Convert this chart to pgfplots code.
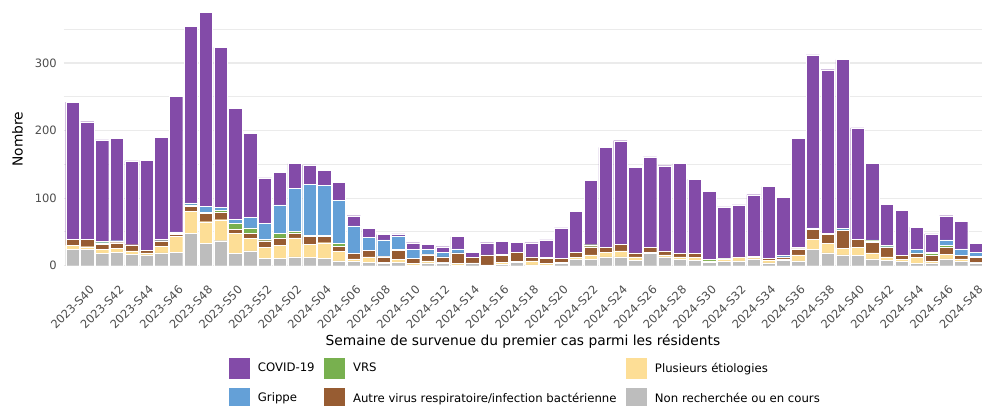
\documentclass[border=0pt]{standalone}
\usepackage{fontspec}
\setmainfont{DejaVu Sans}
\usepackage{pgfplots}
\usepackage{pgfplotstable}
\pgfplotsset{compat=1.18}
\definecolor{cCovid}{HTML}{834BA8}
\definecolor{cGrippe}{HTML}{64A0D7}
\definecolor{cVRS}{HTML}{78B04F}
\definecolor{cAutre}{HTML}{975C32}
\definecolor{cPlus}{HTML}{FDDE96}
\definecolor{cNon}{HTML}{BDBDBD}
\definecolor{gridc}{HTML}{EBEBEB}
\definecolor{tickc}{HTML}{4D4D4D}
\pgfplotstableread{
k gray yellow brown green blue purple
0 24 6 9 0 0 203
1 24 4 11 0 0 174
2 18 6 8 2 2 150
3 20 6 8 1 2 151
4 17 5 9 0 0 124
5 16 3 4 0 0 133
6 19 10 8 0 2 151
7 20 23 3 2 2 201
8 48 32 8 2 3 261
9 33 32 12 2 9 287
10 37 31 11 3 4 237
11 18 30 6 9 6 164
12 22 18 8 8 16 124
13 11 16 10 2 24 67
14 11 19 11 7 42 48
15 13 28 7 3 63 37
16 12 20 11 2 75 29
17 11 23 9 2 74 22
18 7 14 8 4 64 26
19 6 4 8 0 41 15
20 5 8 10 0 19 13
21 3 2 8 1 24 8
22 5 4 14 1 20 3
23 1 2 8 0 13 10
24 4 3 9 1 7 8
25 4 1 8 0 7 8
26 1 2 16 0 6 18
27 4 0 8 0 0 8
28 1 0 14 1 0 18
29 2 3 10 2 0 19
30 5 1 14 0 0 15
31 1 6 6 0 0 21
32 1 2 8 1 0 26
33 3 2 6 0 0 45
34 9 3 8 0 0 60
35 9 7 12 3 0 95
36 13 7 7 0 0 148
37 13 9 10 0 0 153
38 8 5 6 0 0 127
39 18 2 7 0 0 134
40 13 3 6 0 0 126
41 9 4 5 0 0 133
42 8 4 6 0 0 110
43 5 2 0 2 0 101
44 6 3 0 1 1 76
45 7 5 1 0 0 77
46 10 2 2 0 0 91
47 4 4 3 0 0 106
48 8 2 3 0 2 86
49 7 9 9 1 1 161
50 24 15 15 1 1 256
51 19 14 13 2 0 242
52 16 10 26 1 2 250
53 15 12 12 0 0 165
54 10 9 16 2 1 113
55 8 5 14 1 2 61
56 6 3 6 0 0 67
57 3 9 6 1 5 33
58 4 2 9 3 2 27
59 10 7 10 3 8 36
60 6 4 5 0 10 41
61 4 1 7 2 6 13
}\datatable
\pgfplotsset{
  sqlegend/.style={legend image code/.code={\fill[##1, draw=none] (0pt,-10.5pt) rectangle (21pt,10.5pt);}},
  segm/.style={fill=#1, draw=white, line width=0.3pt, forget plot},
}
\begin{document}
\begin{tikzpicture}
\begin{axis}[
  at={(63.5pt,126.7pt)}, anchor=south west,
  x=14.81pt, y=0.6757pt,
  xmin=-0.6, xmax=61.45, ymin=-18.7, ymax=393,
  ybar stacked, bar width=0.9,
  axis line style={draw=none},
  major tick length=0pt, minor tick length=0pt,
  ytick={0,100,200,300}, minor ytick={50,150,250,350},
  ymajorgrids, yminorgrids,
  major grid style={color=gridc, line width=1.1pt},
  minor grid style={color=gridc, line width=1.1pt},
  /pgf/number format/assume math mode=true,
  yticklabel style={font=\fontsize{11.5}{13}\selectfont, color=tickc, anchor=east, inner sep=0pt, xshift=-6.5pt},
  xtick={0,2,...,60},
  xticklabels={2023-S40,2023-S42,2023-S44,2023-S46,2023-S48,2023-S50,2023-S52,2024-S02,2024-S04,2024-S06,2024-S08,2024-S10,2024-S12,2024-S14,2024-S16,2024-S18,2024-S20,2024-S22,2024-S24,2024-S26,2024-S28,2024-S30,2024-S32,2024-S34,2024-S36,2024-S38,2024-S40,2024-S42,2024-S44,2024-S46,2024-S48},
  xticklabel shift=29pt,
  xticklabel style={font=\fontsize{11.5}{13}\selectfont, color=tickc, rotate=45, anchor=center, inner sep=0pt},
  xlabel={Semaine de survenue du premier cas parmi les résidents},
  ylabel={Nombre},
  xlabel style={font=\fontsize{13.8}{16}\selectfont, at={(axis description cs:0.5,-0.2255)}, anchor=center},
  ylabel style={font=\fontsize{13.8}{16}\selectfont, at={(axis description cs:-0.0500,0.5)}, anchor=center},
  legend columns=3,
  legend cell align=left,
  legend style={draw=none, fill=none, inner sep=0pt, outer sep=0pt,
    at={(axis description cs:0.18,-0.2853)}, anchor=north west,
    font=\fontsize{11.7}{13}\selectfont,
    nodes={inner sep=0pt, outer sep=0pt},
    row sep=9pt,
    /tikz/every odd column/.append style={column sep=8pt},
    /tikz/every even column/.append style={column sep=9.4pt}},
]
\addplot[segm=cNon] table[x=k, y=gray] {\datatable};
\addplot[segm=cPlus] table[x=k, y=yellow] {\datatable};
\addplot[segm=cAutre] table[x=k, y=brown] {\datatable};
\addplot[segm=cVRS] table[x=k, y=green] {\datatable};
\addplot[segm=cGrippe] table[x=k, y=blue] {\datatable};
\addplot[segm=cCovid] table[x=k, y=purple] {\datatable};
\addlegendimage{sqlegend, fill=cCovid, draw=none}
\addlegendentry{COVID-19}
\addlegendimage{sqlegend, fill=cVRS, draw=none}
\addlegendentry{VRS}
\addlegendimage{sqlegend, fill=cPlus, draw=none}
\addlegendentry{Plusieurs étiologies}
\addlegendimage{sqlegend, fill=cGrippe, draw=none}
\addlegendentry{Grippe}
\addlegendimage{sqlegend, fill=cAutre, draw=none}
\addlegendentry{Autre virus respiratoire/infection bactérienne}
\addlegendimage{sqlegend, fill=cNon, draw=none}
\addlegendentry{Non recherchée ou en cours}
\end{axis}
\pgfresetboundingbox
\path (0pt,0pt) rectangle (982pt,405pt);
\end{tikzpicture}
\end{document}
